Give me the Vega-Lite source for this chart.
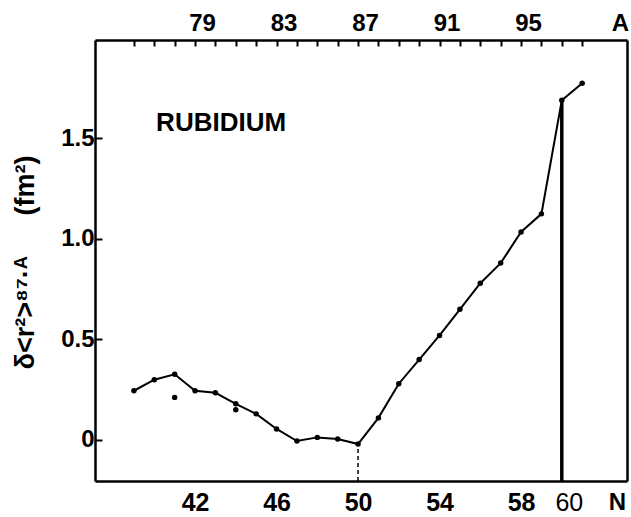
{
  "$schema": "https://vega.github.io/schema/vega-lite/v6.json",
  "width": 532,
  "height": 441,
  "autosize": {"type": "none"},
  "padding": {"left": 95, "top": 40, "right": 4, "bottom": 36},
  "background": "white",
  "config": {
    "view": {"stroke": null},
    "axis": {
      "grid": true,
      "gridColor": "black",
      "gridWidth": 2,
      "gridOpacity": 1,
      "ticks": false,
      "tickSize": 0,
      "domainColor": "black",
      "domainWidth": 2.5,
      "labelColor": "black",
      "titleColor": "black",
      "labelFont": "Liberation Sans",
      "titleFont": "Liberation Sans",
      "labelFontWeight": "bold",
      "titleFontWeight": "bold"
    }
  },
  "layer": [
    {
      "encoding": {
        "x": {
          "field": "N",
          "type": "quantitative",
          "scale": {"domain": [37.09, 63.2], "nice": false, "zero": false},
          "axis": {
            "orient": "bottom",
            "values": [39,40,41,42,43,44,45,46,47,48,49,50,51,52,53,54,55,56,57,58,59,60,61],
            "labelExpr": "indexof([42,46,50,54,58,60], datum.value) >= 0 ? datum.label : ''",
            "gridDash": [6, 3000],
            "labelPadding": 9,
            "labelFontSize": 25,
            "labelFontWeight": {"condition": {"test": "datum.value == 60", "value": "normal"}, "value": "bold"},
            "labelOffset": {"condition": {"test": "datum.value == 60", "value": 7}, "value": 0},
            "title": "N",
            "titleFontSize": 24,
            "titleAngle": 0,
            "titleX": 522,
            "titleY": 21,
            "titleAlign": "center",
            "titleBaseline": "middle"
          }
        },
        "y": {
          "field": "v",
          "type": "quantitative",
          "scale": {"domain": [-0.204, 1.99], "nice": false, "zero": false},
          "axis": {
            "orient": "left",
            "values": [0, 0.5, 1, 1.5],
            "labelExpr": "datum.value == 0 ? '0' : format(datum.value, '.1f')",
            "gridDash": [7, 3000],
            "labelPadding": 1,
            "labelFontSize": 24,
            "title": "δ<r²>⁸⁷·ᴬ\u2003\u2002(fm²)",
            "titleFontSize": 27,
            "titleAngle": -90,
            "titleX": -70,
            "titleY": 222,
            "titleAlign": "center",
            "titleBaseline": "middle"
          }
        }
      },
      "layer": [
        {
          "data": {"values": [
            {"N": 39, "v": 0.245}, {"N": 40, "v": 0.30}, {"N": 41, "v": 0.327},
            {"N": 42, "v": 0.245}, {"N": 43, "v": 0.235}, {"N": 44, "v": 0.18},
            {"N": 45, "v": 0.13}, {"N": 46, "v": 0.055}, {"N": 47, "v": -0.005},
            {"N": 48, "v": 0.013}, {"N": 49, "v": 0.005}, {"N": 50, "v": -0.02},
            {"N": 51, "v": 0.11}, {"N": 52, "v": 0.28}, {"N": 53, "v": 0.40},
            {"N": 54, "v": 0.52}, {"N": 55, "v": 0.65}, {"N": 56, "v": 0.78},
            {"N": 57, "v": 0.88}, {"N": 58, "v": 1.035}, {"N": 59, "v": 1.125},
            {"N": 60, "v": 1.69}, {"N": 61, "v": 1.775}
          ]},
          "layer": [
            {"mark": {"type": "line", "color": "black", "strokeWidth": 2}},
            {"mark": {"type": "circle", "color": "black", "size": 30, "opacity": 1}}
          ]
        },
        {
          "data": {"values": [{"N": 41, "v": 0.212}, {"N": 44, "v": 0.15}]},
          "mark": {"type": "circle", "color": "black", "size": 30, "opacity": 1}
        },
        {
          "data": {"values": [{"N": 50, "v": -0.204, "v2": -0.02}]},
          "mark": {"type": "rule", "color": "black", "strokeWidth": 1.5, "strokeDash": [4, 3]},
          "encoding": {"y2": {"field": "v2"}}
        },
        {
          "data": {"values": [{"N": 60, "v": -0.204, "v2": 1.69}]},
          "mark": {"type": "rule", "color": "black", "strokeWidth": 3.5},
          "encoding": {"y2": {"field": "v2"}}
        },
        {
          "data": {"values": [{"N": 43.28, "v": 1.577, "label": "RUBIDIUM"}]},
          "mark": {"type": "text", "font": "Liberation Sans", "fontWeight": "bold", "fontSize": 26, "color": "black", "align": "center", "baseline": "middle"},
          "encoding": {"text": {"field": "label"}}
        }
      ]
    },
    {
      "data": {"values": [{"A": 80, "v": 0}]},
      "mark": {"type": "point", "opacity": 0},
      "encoding": {
        "x": {
          "field": "A",
          "type": "quantitative",
          "scale": {"domain": [73.75, 99.86], "nice": false, "zero": false},
          "axis": {
            "orient": "top",
            "values": [74,75,76,77,78,79,80,81,82,83,84,85,86,87,88,89,90,91,92,93,94,95,96,97,98,99],
            "labelExpr": "indexof([79,83,87,91,95], datum.value) >= 0 ? datum.label : ''",
            "gridDash": [5, 3000],
            "labelPadding": 5,
            "labelFontSize": 24,
            "title": "A",
            "titleFontSize": 24,
            "titleAngle": 0,
            "titleX": 525,
            "titleY": -17,
            "titleAlign": "center",
            "titleBaseline": "middle"
          }
        },
        "y": {
          "field": "v",
          "type": "quantitative",
          "scale": {"domain": [-0.204, 1.99], "nice": false, "zero": false},
          "axis": {
            "orient": "right",
            "values": [0, 0.5, 1, 1.5],
            "labels": false,
            "gridDash": [7, 3000],
            "title": null
          }
        }
      }
    }
  ],
  "resolve": {"scale": {"x": "independent", "y": "independent"}}
}
